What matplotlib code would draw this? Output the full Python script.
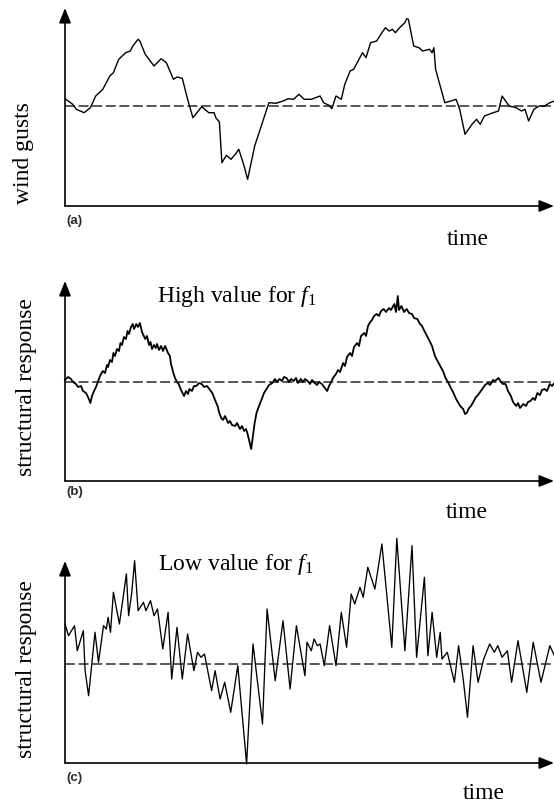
import matplotlib
matplotlib.use('Agg')
import matplotlib.pyplot as plt

# ---------------- data (time in arbitrary units, value relative to mean) ----------------
t_a = [0, 7.7, 11.3, 19.1, 25.4, 30.7, 37.8, 44.8, 48.4, 53.7, 60.7, 65.3, 67.8, 73.1, 74.9,
       80.2, 89.0, 96.1, 101.4, 108.4, 112.0, 117.3, 122.6, 127.9, 136.7, 143.8, 149.1, 150.8,
       154.4, 156.9, 161.4, 166.0, 170.3, 173.8, 179.1, 182.6, 189.7, 203.9, 210.9, 218.0,
       223.3, 228.6, 233.9, 239.2, 246.3, 255.1, 258.6, 263.9, 266.8, 271.0, 276.3, 279.8,
       285.1, 288.7, 294.0, 297.5, 301.0, 305.6, 311.6, 316.9, 320.5, 324.0, 327.5, 330.4,
       334.6, 339.9, 341.7, 343.4, 348.7, 354.0, 357.6, 364.6, 367.1, 368.9, 370.6, 375.2,
       379.8, 385.8, 391.1, 394.7, 400.0, 407.0, 411.6, 415.2, 419.4, 428.2, 433.5, 437.1,
       440.6, 444.1, 451.2, 456.5, 460.0, 463.6, 468.9, 474.2, 479.5, 484.8, 489.4]
v_a = [7.3, 1.7, -3.3, -6.7, -1.7, 10, 16.7, 30, 33.3, 46.7, 53.3, 55, 60, 66.7, 65,
       51.7, 40, 47.3, 43.3, 26.7, 29, 27.7, 6.7, -11.7, -0.7, -6.7, -6.7, -11.7,
       -16, -56.7, -49.3, -53.3, -48.3, -43.3, -60, -73.3, -40, 3.3, 2.7, 5,
       7.3, 6.7, 11.7, 6.7, 6.7, 10, 3.3, 0.7, -2.7, 10, 6.7, 21.7,
       35, 36.7, 46.7, 53.3, 48.3, 63.3, 65, 73.3, 78.3, 75, 76.7, 73.3,
       78.3, 83.3, 87.3, 86.7, 60, 58.3, 55, 56.7, 53.3, 58.3, 36.7, 20,
       3.3, 5, 6.7, -3.3, -28.3, -18.3, -13.3, -18.3, -10, -6.7, -5, 10,
       5, 0, -1.7, -5, -3.3, -15, -3.3, 0, 0, 3.3, 5]

t_b = [0, 3, 6, 8, 11, 13, 16, 18, 21, 23, 25.4, 27, 29, 31, 32.5,
       35, 37.8, 40, 42, 43, 45, 47, 48.4, 50, 52, 54, 55.4, 57, 59, 61, 62.5, 64, 66, 67.8,
       69, 71.3, 73, 74.9,
       77, 80.2, 82, 84, 85.5, 87, 89, 90.8, 92, 94, 96.1, 98, 100, 101.4, 103, 104.9, 106, 108.4,
       110, 112, 113.7, 116, 119.1, 121, 123, 124.4, 127, 129, 131.4, 134, 136.7, 139, 142, 145,
       147.3, 150,
       152.6, 154, 156.2, 158, 160, 163.2, 165, 167, 170.3, 172, 175, 177, 179.1, 181, 182.6,
       184, 186.2, 187.9,
       189.5, 191.5, 194, 196.8, 199, 202.1, 204, 207.4, 210, 212, 214.5, 217, 219, 221.5, 224,
       226, 228.6, 231, 233, 235.7, 238, 240, 242.7, 245, 247, 249.8, 252, 254, 256.9, 259,
       262.2, 264, 265.7,
       268, 271, 273, 275, 278.1, 280, 282, 285.1, 287, 289, 292.2, 294, 296, 299.3, 301, 303,
       304.6, 307, 309, 311.6, 314, 316, 318.7, 321, 324, 326, 329.3, 331, 332.8, 334, 336.4,
       339, 341.7,
       344, 347, 349, 352.3, 355, 357, 359.4, 362, 364.6, 367, 369.9, 372, 375.2, 378, 380.5,
       383, 385.8, 388, 391.1, 394, 396, 398.2, 400, 401.7,
       404, 406, 408.8, 411, 413, 415.9, 418, 420, 422.9, 425, 428, 430, 433.5, 436, 438,
       440.6, 443, 445.9, 448, 451.2, 453, 455, 458.3, 461, 463, 465.4, 468, 470, 472.4, 475,
       477, 479.5, 482, 484.8, 487, 489.4]
v_b = [2, 5, 3, 0, -2, -5, -4, -9, -11, -15, -21, -14, -9, -5, -1,
       6, 11, 9, 17, 15, 22, 20, 29, 26, 33, 31, 39, 37, 45, 43, 51, 48, 55, 58,
       53, 58, 55, 59,
       50, 43, 46, 37, 40, 33, 37, 34, 38, 32, 36, 31, 36, 33, 29, 26, 18, 9,
       4, 0, -2, -8, -14, -9, -12, -7, -9, -4, -4, -1, -2, -5, -4, -8,
       -11, -18,
       -24, -30, -36, -38, -34, -41, -39, -43, -44, -41, -47, -44, -49, -47, -52,
       -58, -67, -54,
       -42, -31, -24, -17, -11, -6, -3, -1, 3, 0, 3, 1, 5, 4, 0,
       3, 1, 4, -1, 3, 0, 3, 1, -2, 2, -1, -3, 0, -2, -5,
       -9, -4, -1,
       4, 8, 12, 10, 19, 16, 25, 29, 26, 35, 39, 36, 46, 49, 46, 56,
       59, 62, 66, 68, 66, 71, 73, 70, 74, 72, 78, 70, 86, 72, 76,
       70, 73,
       69, 68, 64, 63, 58, 56, 51, 46, 41, 36, 26, 22, 16, 11, 4,
       0, -6, -10, -17, -22, -25, -27, -32, -31,
       -26, -24, -19, -15, -13, -9, -6, -3, -1, -3, 2, 1, 4, 0, -2,
       -2, -9, -14, -20, -24, -21, -26, -22, -24, -20, -19, -16, -18, -11, -13,
       -8, -7, -9, -2, -4, -1]

t_c = [0, 3.5, 9.5, 12.3, 18.3, 20.1, 23.6, 30.0, 33.5, 38.5, 41.3, 43.1, 45.5, 48.4, 54.4,
       61.4, 63.6, 66.8, 69.6, 73.1, 78.4, 80.9, 85.5, 89.0, 92.5, 97.8, 103.1, 106.7, 112.0,
       117.3, 122.6, 128.9, 132.5, 136.0, 139.5, 146.6, 150.1, 155.1, 159.7, 165.7, 172.8,
       181.6, 188.0, 197.5, 202.1, 210.2, 218.0, 225.1, 231.4, 239.9, 242.0, 246.3, 249.1,
       252.3, 255.1, 259.3, 264.6, 271.0, 276.3, 281.6, 286.2, 289.7, 295.0, 298.2, 302.8,
       309.9, 316.9, 326.8, 331.8, 339.9, 347.0, 351.6, 359.4, 362.9, 367.1, 371.7, 375.2,
       377.0, 382.3, 389.4, 393.6, 398.2, 402.5, 408.1, 413.1, 418.7, 424.7, 429.3, 432.8,
       437.1, 442.4, 446.6, 453.0, 461.8, 468.2, 476.0, 484.8, 489.4]
v_c = [40, 28.3, 38.3, 13.3, 33.3, -6.7, -31.7, 31.7, 1.7, 38.3, 35, 46.7, 31.7, 71.7, 40,
       90, 48.3, 71.7, 103.3, 53.3, 61.7, 53.3, 63.3, 48.3, 55, 15, 51.7, -15, 36.7,
       -15, 30, -6.7, 11.7, 6.7, 10, -26.7, -6.7, -35, -18.3, -48.3, -1.7,
       -100, 20, -60, 55, -16.7, 43.3, -25, 38.3, -11.7, 21.7, 13.3, 25,
       18.3, 20, -1.7, 38.3, -1.7, 51.7, 16.7, 70, 60, 76.7, 66.7, 96.7,
       75, 120, 16.7, 125.7, 13.3, 118.3, 6.7, 86.7, 8.3, 51.7, 6.7, 31.7,
       5, 11.7, -18.3, 18.3, -15, -53.3, 18.3, -18.3, 5, 20, 11.7, 18.3,
       6.7, 13.3, -18.3, 23.3, -28.3, 21.7, -18.3, 18.3, 8.3]

ylabels = ["wind gusts", "structural response", "structural response"]
panel_tags = ["(a)", "(b)", "(c)"]
titles = [None, "High value for $f_{\\mathit{1}}$", "Low value for $f_{\\mathit{1}}$"]
xlabel = "time"

# ---------------- figure ----------------
W, H = 554, 804
plt.rcParams['mathtext.fontset'] = 'custom'
plt.rcParams['mathtext.rm'] = 'Liberation Serif'
plt.rcParams['mathtext.it'] = 'Liberation Serif:italic'
fig = plt.figure(figsize=(W / 100, H / 100), dpi=100)
SERIF = 'Liberation Serif'
FS = 17

def ftext(x, y, s, **kw):
    return fig.text(x / W, 1 - y / H, s, **kw)

# per-panel layout (pixels): x-axis row from top, vmin, arrow-top value, vmax of axes
layouts = [
    dict(xaxis=207, vmin=-100, vtop=98, vmax=101),
    dict(xaxis=482, vmin=-99, vtop=101, vmax=110),
    dict(xaxis=764, vmin=-99, vtop=103, vmax=130),
]
series = [(t_a, v_a), (t_b, v_b), (t_c, v_c)]
line_w = [1.0, 1.3, 0.95]
T_END = 489

ylab_pos = [(24, 153), (27, 387), (27, 669)]
tag_pos = [(66, 224), (66, 495), (66, 781)]
time_pos = [(447, 245), (446, 518), (463, 799)]
title_pos = [None, (157, 302), (158, 570)]

for i, lay in enumerate(layouts):
    bottom = H - lay['xaxis']
    height = lay['vmax'] - lay['vmin']
    ax = fig.add_axes([65 / W, bottom / H, T_END / W, height / H])
    ax.set_xlim(0, T_END)
    ax.set_ylim(lay['vmin'], lay['vmax'])
    ax.set_axis_off()
    arrow = dict(arrowstyle='-|>,head_length=0.75,head_width=0.3', color='black',
                 lw=1.2, mutation_scale=12, shrinkA=0, shrinkB=0)
    ax.annotate('', xy=(0, lay['vtop']), xytext=(0, lay['vmin']),
                arrowprops=arrow, annotation_clip=False)
    ax.annotate('', xy=(T_END, lay['vmin']), xytext=(0, lay['vmin']),
                arrowprops=arrow, annotation_clip=False)
    ax.plot([0, T_END], [0, 0], color='#2a2a2a', lw=1.1, ls=(0, (6.5, 2.4)), clip_on=False)
    t, v = series[i]
    ax.plot(t, v, color='black', lw=line_w[i], clip_on=False)

    x, y = ylab_pos[i]
    ftext(x, y, ylabels[i], rotation=90, ha='center', va='center', fontsize=FS,
          family=SERIF)
    x, y = tag_pos[i]
    ftext(x, y, panel_tags[i], ha='left', va='baseline', fontsize=9.5,
          family='Liberation Sans', weight='bold', color='#2a2a2a')
    x, y = time_pos[i]
    ftext(x, y, xlabel, ha='left', va='baseline', fontsize=FS, family=SERIF)
    if titles[i]:
        x, y = title_pos[i]
        ftext(x, y, titles[i], ha='left', va='baseline', fontsize=FS, family=SERIF)

fig.savefig('out.png', dpi=100)
